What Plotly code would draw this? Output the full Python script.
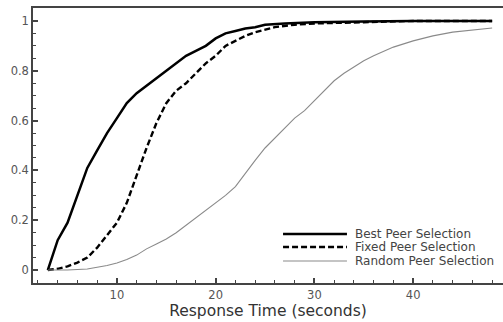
import plotly.graph_objects as go

series_names = ["Best Peer Selection", "Fixed Peer Selection", "Random Peer Selection"]

best_x = [3, 3.5, 4, 5, 6, 7, 8, 9, 10, 11, 12, 13, 14, 15, 16, 17, 18, 19, 20, 21, 22, 23, 24, 25, 27, 30, 35, 40, 48]
best_y = [0, 0.06, 0.12, 0.19, 0.30, 0.41, 0.48, 0.55, 0.61, 0.67, 0.71, 0.74, 0.77, 0.80, 0.83, 0.86, 0.88, 0.90,
          0.93, 0.95, 0.96, 0.97, 0.975, 0.985, 0.99, 0.995, 0.998, 1.0, 1.0]

fixed_x = [3, 4, 5, 6, 7, 8, 9, 10, 11, 12, 13, 14, 15, 16, 17, 18, 19, 20, 21, 22, 23, 24, 26, 28, 30, 35, 40, 48]
fixed_y = [0, 0.005, 0.015, 0.03, 0.05, 0.09, 0.14, 0.19, 0.27, 0.38, 0.49, 0.59, 0.67, 0.72, 0.75, 0.79, 0.83,
           0.86, 0.90, 0.92, 0.94, 0.955, 0.975, 0.985, 0.99, 0.995, 1.0, 1.0]

random_x = [3, 5, 7, 8, 9, 10, 11, 12, 13, 14, 15, 16, 17, 18, 19, 20, 21, 22, 23, 24, 25, 26, 27, 28, 29, 30, 31,
            32, 33, 34, 35, 36, 38, 40, 42, 44, 46, 48]
random_y = [0, 0, 0.004, 0.01, 0.018, 0.028, 0.042, 0.06, 0.085, 0.105, 0.125, 0.15, 0.18, 0.21, 0.24, 0.27, 0.30,
            0.335, 0.39, 0.44, 0.49, 0.53, 0.57, 0.61, 0.64, 0.68, 0.72, 0.76, 0.79, 0.815, 0.84, 0.86, 0.895, 0.92,
            0.94, 0.955, 0.965, 0.972]

x_ticks = [10, 20, 30, 40]
y_ticks = [0, 0.2, 0.4, 0.6, 0.8, 1]
y_tick_labels = ["0", "0.2", "0.4", "0.6", "0.8", "1"]

styles = [
    dict(color="#000000", width=2.5, dash="solid"),
    dict(color="#000000", width=2.4, dash="6px,3px"),
    dict(color="#8a8a8a", width=1.1, dash="solid"),
]

fig = go.Figure()
for name, xs, ys, st in zip(series_names, [best_x, fixed_x, random_x], [best_y, fixed_y, random_y], styles):
    fig.add_trace(go.Scatter(x=xs, y=ys, mode="lines", name=name, line=st, showlegend=False))

# manual legend (line samples + labels) in paper coordinates
leg_y = [0.178, 0.131, 0.080]
for name, st, ly in zip(series_names, styles, leg_y):
    fig.add_shape(type="line", xref="paper", yref="paper", x0=0.532, x1=0.668, y0=ly, y1=ly,
                  line=st)
    fig.add_annotation(xref="paper", yref="paper", x=0.68, y=ly, text=name, showarrow=False,
                       xanchor="left", yanchor="middle",
                       font=dict(family="DejaVu Sans", size=12, color="#444444"))

axis_common = dict(
    showgrid=False, zeroline=False, showline=True, linecolor="#444444", linewidth=1.5,
    ticks="inside", ticklen=5, tickwidth=1.5, tickcolor="#444444",
    tickfont=dict(family="DejaVu Sans", size=11.5, color="#555555"),
)

fig.update_layout(
    width=503, height=322,
    margin=dict(l=33, r=0, t=8, b=39),
    paper_bgcolor="white", plot_bgcolor="white",
    xaxis=dict(range=[1.5, 49.1], tickvals=x_ticks, mirror=True,
               minor=dict(dtick=2, tick0=0, ticks="inside", ticklen=3, tickcolor="#444444", tickwidth=1),
               title=dict(text="Response Time (seconds)", standoff=4,
                          font=dict(family="DejaVu Sans", size=15.5, color="#333333")),
               **axis_common),
    yaxis=dict(range=[-0.052, 1.052], tickvals=y_ticks, ticktext=y_tick_labels,
               ticklabelstandoff=0,
               minor=dict(dtick=0.05, tick0=0, ticks="inside", ticklen=3, tickcolor="#444444", tickwidth=1),
               **axis_common),
)

fig.write_html("out.html")
